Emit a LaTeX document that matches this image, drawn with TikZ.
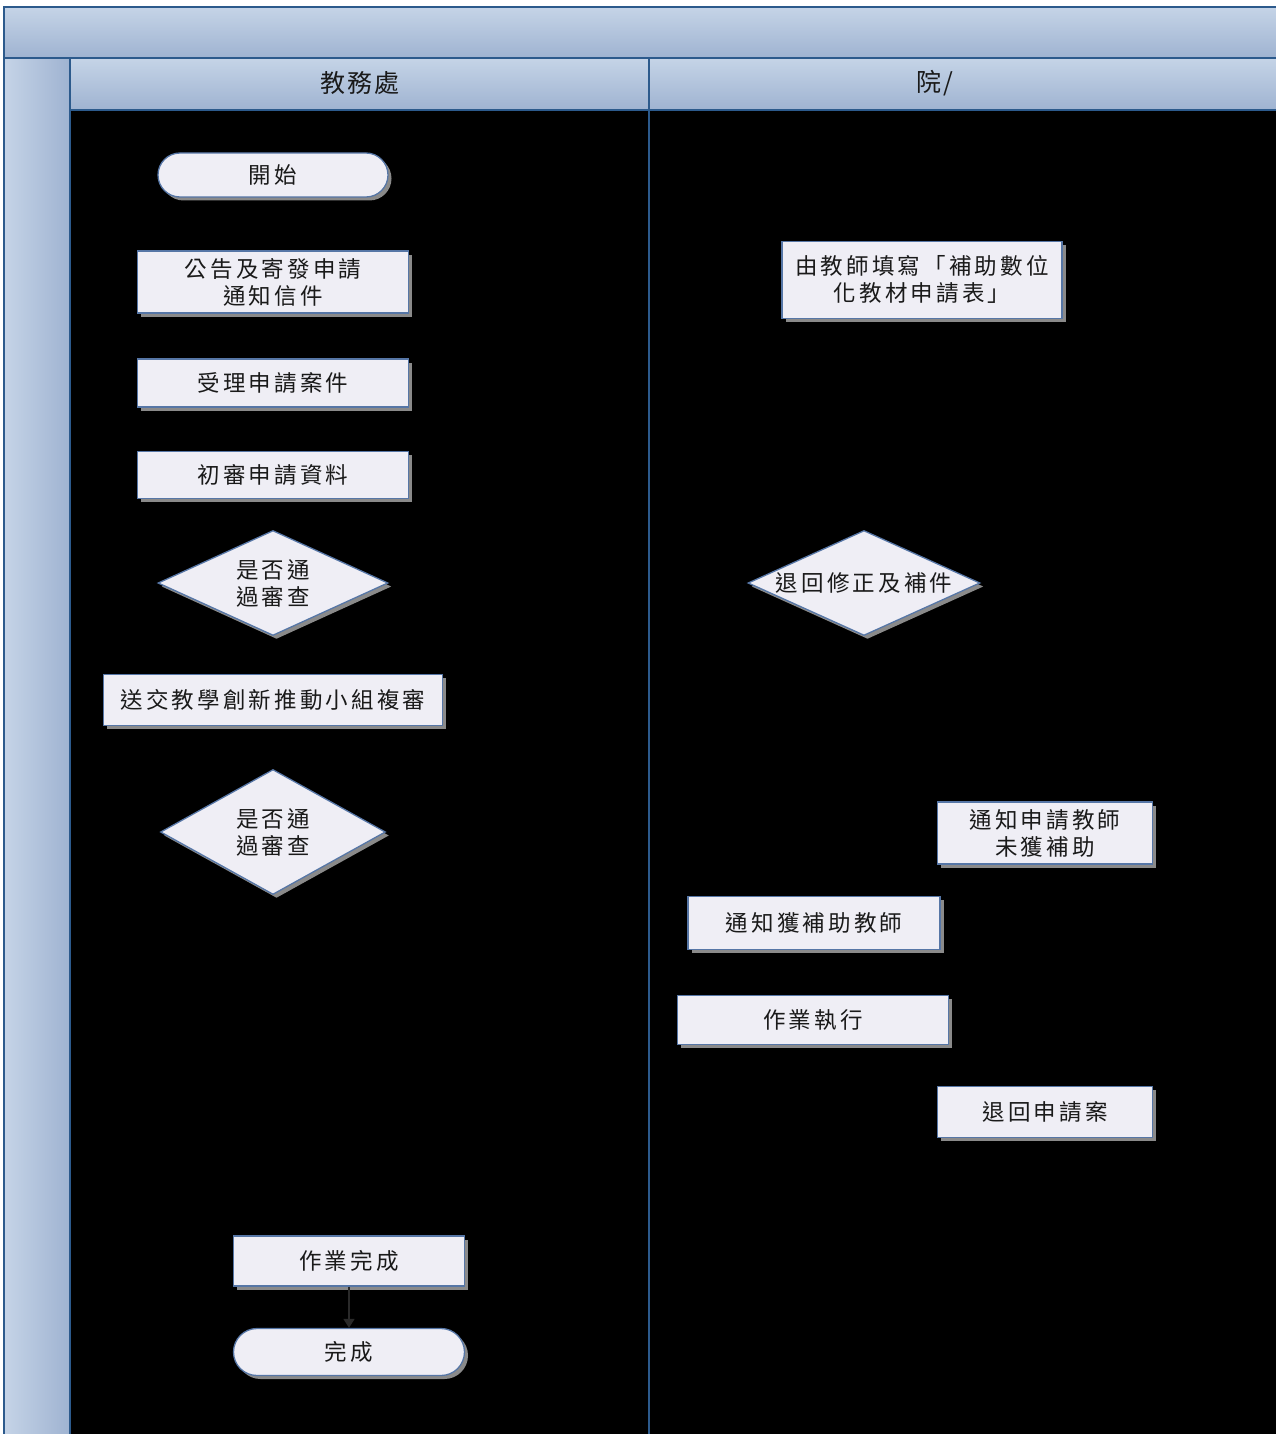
\documentclass[tikz,border=0pt]{standalone}
\usepackage{fontspec}
\newfontfamily\cjk[LetterSpace=14]{Noto Sans CJK TC}
\newfontfamily\cjkhead[LetterSpace=8]{Noto Sans CJK TC}
\usetikzlibrary{shapes.geometric,shapes.misc,shadows,arrows.meta}
\definecolor{frameblue}{HTML}{2C5A8C}
\definecolor{bandtop}{HTML}{C5D4E7}
\definecolor{bandbot}{HTML}{9FB3D1}
\definecolor{boxfill}{HTML}{EFEEF5}
\definecolor{boxline}{HTML}{5676A6}
\definecolor{txtc}{HTML}{1A1A1A}
\definecolor{shadowc}{HTML}{8A8A8A}
\definecolor{arrowc}{HTML}{2A2A2A}
\begin{document}
\begin{tikzpicture}[x=1pt,y=-1pt,
  lbl/.style={font=\cjk\fontsize{22.5}{27}\selectfont, text=txtc, align=center},
  headtxt/.style={font=\cjkhead\fontsize{25}{27}\selectfont, text=txtc},
  box/.style={draw=boxline, line width=1.3pt, fill=boxfill, inner sep=0pt,
     lbl, drop shadow={shadow xshift=3.5pt, shadow yshift=-3.5pt, fill=shadowc, opacity=1}},
  term/.style={box, rounded rectangle},
  dia/.style={draw=boxline, line width=1.3pt, fill=boxfill, diamond, inner sep=0pt,
     drop shadow={shadow xshift=3.5pt, shadow yshift=-3.5pt, fill=shadowc, opacity=1}},
  lane/.style={frameblue, line width=2.5pt}
]
\useasboundingbox (0,0) rectangle (1276,1434);
\fill[white] (0,0) rectangle (1276,1434);
% lane bodies
\fill[black] (70,110) rectangle (1276,1434);
% bands
\shade[top color=bandtop, bottom color=bandbot] (4,7) rectangle (1276,58);
\shade[left color=bandtop, right color=bandbot] (4,58) rectangle (70,1434);
\shade[top color=bandtop, bottom color=bandbot] (70,58) rectangle (649,110);
\shade[top color=bandtop, bottom color=bandbot] (649,58) rectangle (1276,110);
% frame lines
\draw[lane] (4,1434) -- (4,7) -- (1276,7);
\draw[lane] (4,58) -- (1276,58);
\draw[lane] (70,58) -- (70,1434);
\draw[lane] (70,110) -- (1276,110);
\draw[lane, line width=2pt] (649,58) -- (649,1434);
% headers
\node[headtxt] (h1) at (360,83) {教務處};
\node[headtxt] (h2) at (935,83) {院/};

% left lane nodes
\node[term, minimum width=230pt, minimum height=44pt] (start) at (273,175) {開始};
\node[box, minimum width=271pt, minimum height=62pt] (pub) at (273,282) {公告及寄發申請\\通知信件};
\node[box, minimum width=271pt, minimum height=48pt] (recv) at (273,383) {受理申請案件};
\node[box, minimum width=271pt, minimum height=47pt] (init) at (273,475) {初審申請資料};
\node[dia, minimum width=230pt, minimum height=105pt,
      label={[lbl]center:是否通\\過審查}] (d1) at (273,583) {};
\node[box, minimum width=339pt, minimum height=51pt] (send) at (273,700) {送交教學創新推動小組複審};
\node[dia, minimum width=225pt, minimum height=125pt,
      label={[lbl]center:是否通\\過審查}] (d2) at (273,832) {};
\node[box, minimum width=231pt, minimum height=50pt] (done) at (349,1261) {作業完成};
\node[term, minimum width=231pt, minimum height=47pt] (fin) at (349,1352) {完成};

% right lane nodes
\node[box, minimum width=280pt, minimum height=77pt] (teach) at (922,280) {由教師填寫「補助數位\\化教材申請表」};
\node[dia, minimum width=232pt, minimum height=105pt,
      label={[lbl]center:退回修正及補件}] (d3) at (864,583) {};
\node[box, minimum width=215pt, minimum height=62pt] (notno) at (1045,833) {通知申請教師\\未獲補助};
\node[box, minimum width=252pt, minimum height=53pt] (notyes) at (814,923) {通知獲補助教師};
\node[box, minimum width=271pt, minimum height=49pt] (exec) at (813,1020) {作業執行};
\node[box, minimum width=215pt, minimum height=51pt] (ret) at (1045,1112) {退回申請案};

% visible connector
\draw[arrowc, line width=1.5pt, -{Triangle[length=9pt, width=11pt]}] (done) -- (fin);
\end{tikzpicture}
\end{document}
